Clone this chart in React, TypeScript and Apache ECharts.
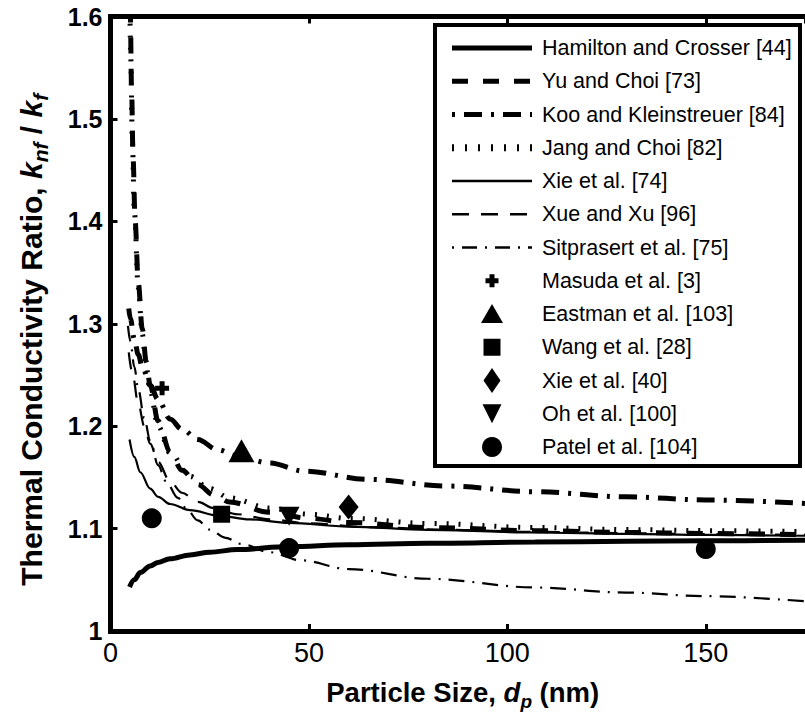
import React, { useEffect, useRef } from 'react';
import * as echarts from 'echarts';

// Model curves: [particle size (nm), k_nf / k_f]
const hamiltonCrosser: [number, number][] = [
  [4.8, 1.043], [6, 1.05], [7.5, 1.057], [10, 1.0635], [12, 1.067], [15, 1.0705], [20, 1.0743],
  [25, 1.077], [32, 1.0795], [45, 1.0825], [60, 1.0842], [80, 1.0856], [107, 1.0868], [130, 1.0876],
  [150, 1.0881], [175, 1.0886],
];
const yuChoi: [number, number][] = [
  [4.9, 1.64], [5.0, 1.6], [5.3, 1.53], [5.7, 1.46], [6.2, 1.4], [7, 1.34], [8, 1.295], [9, 1.263],
  [10, 1.24], [12, 1.205], [15, 1.175], [18, 1.157], [22, 1.143], [26, 1.133], [30, 1.126], [40, 1.116],
  [50, 1.11], [60, 1.106], [80, 1.101], [107, 1.098], [130, 1.0962], [150, 1.0952], [175, 1.0942],
];
const kooKleinstreuer: [number, number][] = [
  [4.6, 1.315], [5, 1.305], [6, 1.285], [7, 1.27], [8, 1.258], [10, 1.24], [12, 1.226], [15, 1.207],
  [18, 1.197], [22, 1.187], [27, 1.177], [32, 1.171], [40, 1.164], [49, 1.156], [65, 1.148], [85, 1.1415],
  [107, 1.136], [130, 1.131], [150, 1.128], [175, 1.1245],
];
const jangChoi: [number, number][] = [
  [4.8, 1.64], [5.1, 1.56], [5.5, 1.48], [6, 1.41], [7, 1.335], [8, 1.29], [9, 1.258], [10, 1.234],
  [12, 1.2], [15, 1.174], [20, 1.151], [25, 1.139], [30, 1.13], [40, 1.12], [50, 1.114], [60, 1.11],
  [80, 1.105], [107, 1.101], [130, 1.099], [150, 1.098], [175, 1.097],
];
const xieModel: [number, number][] = [
  [4.8, 1.187], [6, 1.17], [7.5, 1.155], [10, 1.139], [12, 1.131], [15, 1.124], [20, 1.118],
  [27.5, 1.1125], [35, 1.109], [45, 1.1055], [60, 1.102], [80, 1.0988], [107, 1.0962], [130, 1.0948],
  [150, 1.0938], [175, 1.093],
];
const xueXu: [number, number][] = [
  [4.6, 1.272], [5.5, 1.252], [7, 1.222], [8.5, 1.2], [10, 1.183], [12, 1.165], [15, 1.146], [18, 1.135],
  [22, 1.126], [26, 1.12], [32, 1.114], [40, 1.109], [50, 1.105], [65, 1.1015], [85, 1.0988],
  [107, 1.0968], [130, 1.0955], [150, 1.0946], [175, 1.0938],
];
const sitprasert: [number, number][] = [
  [4.4, 1.298], [5, 1.283], [6, 1.258], [7, 1.236], [8.5, 1.208], [10, 1.186], [12, 1.162], [14, 1.146],
  [17, 1.13], [19, 1.12], [22, 1.108], [25, 1.099], [29, 1.091], [33, 1.085], [40, 1.077], [48, 1.069],
  [60, 1.0605], [80, 1.051], [107, 1.0425], [130, 1.0375], [150, 1.034], [175, 1.029],
];

// Experimental points
const masuda: [number, number][] = [[13, 1.237]];
const eastman: [number, number][] = [[33, 1.176]];
const wang: [number, number][] = [[28, 1.114]];
const xieExperiment: [number, number][] = [[60, 1.121]];
const oh: [number, number][] = [[45, 1.112]];
const patel: [number, number][] = [[10.4, 1.11], [45, 1.081], [150, 1.08]];

const X_MIN = 0;
const X_MAX = 175;
const X_STEP = 50;
const Y_MIN = 1;
const Y_MAX = 1.6;
const Y_STEP = 0.1;

const FONT = "'Liberation Sans', Arial, Helvetica, sans-serif";

type LineDef = {
  name: string;
  data: [number, number][];
  width: number;
  dash: number[] | null;
  offset?: number;
  legendWidth?: number;
  legendDash?: number[] | null;
  legendOffset?: number;
};

const lineDefs: LineDef[] = [
  { name: 'Hamilton and Crosser [44]', data: hamiltonCrosser, width: 5, dash: null },
  { name: 'Yu and Choi [73]', data: yuChoi, width: 5, dash: [16, 15] },
  { name: 'Koo and Kleinstreuer [84]', data: kooKleinstreuer, width: 5, dash: [18, 9, 3, 9], legendOffset: 27 },
  { name: 'Jang and Choi [82]', data: jangChoi, width: 5, dash: [2, 10], legendWidth: 7, legendDash: [2, 11] },
  { name: 'Xie et al. [74]', data: xieModel, width: 2.2, dash: null, legendWidth: 2.6 },
  { name: 'Xue and Xu [96]', data: xueXu, width: 2.2, dash: [17, 12], legendWidth: 2.6 },
  { name: 'Sitprasert et al. [75]', data: sitprasert, width: 2.2, dash: [16, 8, 2, 8], legendWidth: 2.6, legendDash: [15, 8, 2, 8], legendOffset: 23 },
];

type MarkerKind = 'plus' | 'triangle' | 'square' | 'diamond' | 'down' | 'circle';
type MarkerDef = { name: string; data: [number, number][]; kind: MarkerKind; size: number | number[] };

const PLUS_PATH = 'path://M4.5 0h5v4.5h4.5v5h-4.5v4.5h-5v-4.5h-4.5v-5h4.5z';
const DOWN_PATH = 'path://M0 0L20 0L10 18Z';

const markerDefs: MarkerDef[] = [
  { name: 'Masuda et al. [3]', data: masuda, kind: 'plus', size: 14 },
  { name: 'Eastman et al. [103]', data: eastman, kind: 'triangle', size: [26, 23] },
  { name: 'Wang et al. [28]', data: wang, kind: 'square', size: 17 },
  { name: 'Xie et al. [40]', data: xieExperiment, kind: 'diamond', size: [20, 25] },
  { name: 'Oh et al. [100]', data: oh, kind: 'down', size: [21, 19] },
  { name: 'Patel et al. [104]', data: patel, kind: 'circle', size: 20 },
];

const symbolFor: Record<MarkerKind, string> = {
  plus: PLUS_PATH,
  triangle: 'triangle',
  square: 'rect',
  diamond: 'diamond',
  down: DOWN_PATH,
  circle: 'circle',
};

// Legend box geometry
const LEG_LEFT = 435;
const LEG_TOP = 25;
const LEG_W = 365;
const LEG_H = 441;
const LEG_ROW0 = 48;
const LEG_ROW_STEP = 33.25;
const LEG_SAMPLE_X1 = 452;
const LEG_SAMPLE_X2 = 532;
const LEG_TEXT_X = 542;

function legendMarker(kind: MarkerKind, cx: number, cy: number): any {
  const z = 12;
  const style = { fill: '#000' };
  switch (kind) {
    case 'plus': {
      const h = 6.5;
      const a = 2.5;
      return {
        type: 'polygon', z, style,
        shape: {
          points: [
            [cx - a, cy - h], [cx + a, cy - h], [cx + a, cy - a], [cx + h, cy - a], [cx + h, cy + a],
            [cx + a, cy + a], [cx + a, cy + h], [cx - a, cy + h], [cx - a, cy + a], [cx - h, cy + a],
            [cx - h, cy - a], [cx - a, cy - a],
          ],
        },
      };
    }
    case 'triangle':
      return { type: 'polygon', z, style, shape: { points: [[cx, cy - 10], [cx + 11, cy + 9], [cx - 11, cy + 9]] } };
    case 'square':
      return { type: 'rect', z, style, shape: { x: cx - 8.5, y: cy - 8.5, width: 17, height: 17 } };
    case 'diamond':
      return { type: 'polygon', z, style, shape: { points: [[cx, cy - 12.5], [cx + 8.5, cy], [cx, cy + 12.5], [cx - 8.5, cy]] } };
    case 'down':
      return { type: 'polygon', z, style, shape: { points: [[cx - 9.5, cy - 9.5], [cx + 9.5, cy - 9.5], [cx, cy + 9.5]] } };
    default:
      return { type: 'circle', z, style, shape: { cx, cy, r: 10 } };
  }
}

function buildLegend(): any[] {
  const els: any[] = [
    {
      type: 'rect', z: 10,
      shape: { x: LEG_LEFT, y: LEG_TOP, width: LEG_W, height: LEG_H },
      style: { fill: '#fff', stroke: '#000', lineWidth: 4 },
    },
  ];
  const names = [...lineDefs.map((d) => d.name), ...markerDefs.map((d) => d.name)];
  lineDefs.forEach((d, i) => {
    const cy = LEG_ROW0 + i * LEG_ROW_STEP;
    const dash = d.legendDash !== undefined ? d.legendDash : d.dash;
    els.push({
      type: 'line', z: 11,
      shape: { x1: LEG_SAMPLE_X1, y1: cy, x2: LEG_SAMPLE_X2, y2: cy },
      style: {
        stroke: '#000',
        lineWidth: d.legendWidth ?? d.width,
        lineDash: dash ?? null,
        lineDashOffset: d.legendOffset ?? 0,
      },
    });
  });
  markerDefs.forEach((d, j) => {
    const cy = LEG_ROW0 + (lineDefs.length + j) * LEG_ROW_STEP;
    els.push(legendMarker(d.kind, (LEG_SAMPLE_X1 + LEG_SAMPLE_X2) / 2, cy));
  });
  names.forEach((name, i) => {
    els.push({
      type: 'text', z: 12,
      x: LEG_TEXT_X,
      y: LEG_ROW0 + i * LEG_ROW_STEP,
      style: {
        text: name, fill: '#000', fontFamily: FONT, fontSize: 21.5,
        textAlign: 'left', verticalAlign: 'middle',
      },
    });
  });
  return els;
}

export default function App() {
  const ref = useRef<HTMLDivElement>(null);

  useEffect(() => {
    if (!ref.current) return;
    const chart = echarts.init(ref.current, null, { renderer: 'svg' });

    const axisLine = { show: true, onZero: false, lineStyle: { color: '#000', width: 5, cap: 'square' } };
    const axisTick = { show: true, inside: true, length: 7, lineStyle: { color: '#000', width: 3 } };

    const lineSeries = lineDefs.map((d) => ({
      type: 'line',
      name: d.name,
      data: d.data,
      symbol: 'none',
      showSymbol: false,
      smooth: 0.35,
      smoothMonotone: 'x',
      clip: true,
      silent: true,
      z: 2,
      lineStyle: {
        color: '#000',
        width: d.width,
        type: d.dash ?? 'solid',
        dashOffset: d.offset ?? 0,
        cap: 'butt',
      },
    }));

    const markerSeries = markerDefs.map((d) => ({
      type: 'scatter',
      name: d.name,
      data: d.data,
      symbol: symbolFor[d.kind],
      symbolSize: d.size,
      silent: true,
      z: 3,
      itemStyle: { color: '#000', opacity: 1 },
    }));

    chart.setOption({
      animation: false,
      backgroundColor: '#fff',
      grid: { left: 110.5, top: 16.5, right: -7.25, bottom: 83, containLabel: false },
      xAxis: [
        {
          type: 'value', min: X_MIN, max: X_MAX, interval: X_STEP, position: 'bottom',
          axisLine, axisTick,
          splitLine: { show: false },
          axisLabel: {
            color: '#000', fontFamily: FONT, fontSize: 27, margin: 8,
            showMaxLabel: false,
          },
          name: 'Particle Size, {i|d}{s|p} (nm)',
          nameLocation: 'middle',
          nameGap: 43,
          nameTextStyle: {
            color: '#000', fontFamily: FONT, fontWeight: 'bold', fontSize: 27.5,
            padding: [0, 0, 0, 10],
            rich: {
              i: { fontFamily: FONT, fontWeight: 'bold', fontStyle: 'italic', fontSize: 27.5, color: '#000' },
              s: { fontFamily: FONT, fontWeight: 'bold', fontStyle: 'italic', fontSize: 19, color: '#000', padding: [18, 0, 0, 0] },
            },
          },
        },
        {
          type: 'value', min: X_MIN, max: X_MAX, interval: X_STEP, position: 'top',
          axisLine, axisTick,
          splitLine: { show: false },
          axisLabel: { show: false },
        },
      ],
      yAxis: [
        {
          type: 'value', min: Y_MIN, max: Y_MAX, interval: Y_STEP, position: 'left',
          axisLine, axisTick,
          splitLine: { show: false },
          axisLabel: { color: '#000', fontFamily: FONT, fontWeight: 'bold', fontSize: 25, margin: 8 },
          name: 'Thermal Conductivity Ratio, {i|k}{s|nf}{b| / }{i|k}{s|f}',
          nameLocation: 'middle',
          nameGap: 60,
          nameRotate: 90,
          nameTextStyle: {
            color: '#000', fontFamily: FONT, fontWeight: 'bold', fontSize: 30,
            padding: [0, 32, 0, 0],
            rich: {
              b: { fontFamily: FONT, fontWeight: 'bold', fontSize: 30, color: '#000' },
              i: { fontFamily: FONT, fontWeight: 'bold', fontStyle: 'italic', fontSize: 30, color: '#000' },
              s: { fontFamily: FONT, fontWeight: 'bold', fontStyle: 'italic', fontSize: 21, color: '#000', padding: [17, 0, 0, 0] },
            },
          },
        },
      ],
      series: [...lineSeries, ...markerSeries],
      graphic: buildLegend(),
    });

    return () => chart.dispose();
  }, []);

  return (
    <div
      ref={ref}
      style={{ position: 'fixed', left: 0, top: 0, width: 805, height: 716, background: '#fff' }}
    />
  );
}
